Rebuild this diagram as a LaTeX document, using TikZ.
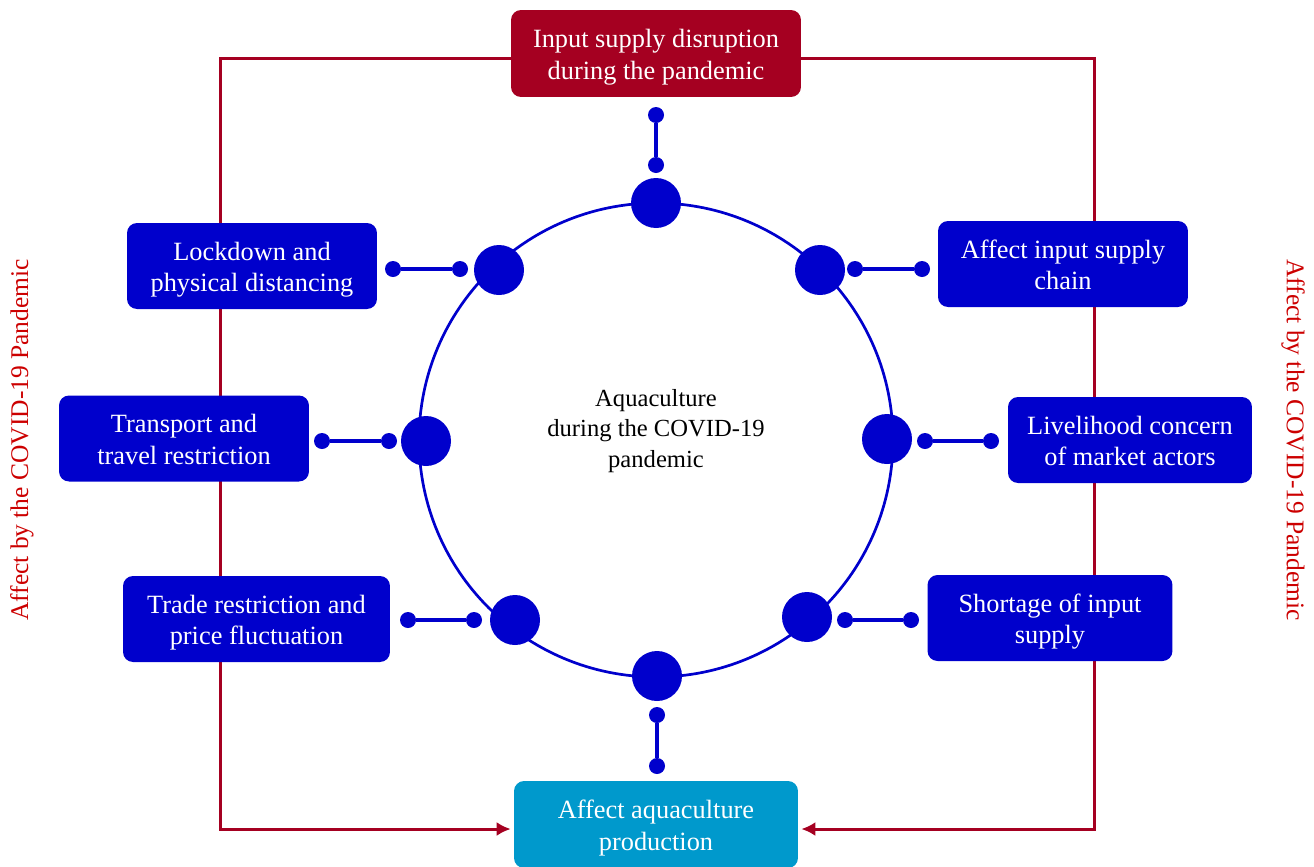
\documentclass[tikz,border=0pt]{standalone}
\usepackage{fontspec}
\setmainfont{Liberation Serif}
\usepackage{tikz}
\usetikzlibrary{arrows.meta, backgrounds}
\usepackage{xcolor}

\definecolor{navyblue}{HTML}{0000CC}
\definecolor{winered}{HTML}{A50021}
\definecolor{seablue}{HTML}{0099CC}
\definecolor{tagred}{HTML}{CC0000}

\begin{document}
\begin{tikzpicture}[
    x = 0.02cm, y = -0.02cm,
    box/.style      = {rounded corners=0.2cm, fill=navyblue, text=white,
                       minimum width=5cm, minimum height=1.72cm,
                       inner sep=2pt, align=center,
                       text height=32.8pt, text depth=3.3pt,
                       font=\fontsize{15}{18}\selectfont},
    hub/.style      = {circle, fill=navyblue, minimum size=1cm, inner sep=0pt},
    dot/.style      = {circle, fill=navyblue, minimum size=0.32cm, inner sep=0pt},
    link/.style     = {navyblue, line width=0.08cm},
    feed/.style     = {winered, line width=0.06cm},
    feedarr/.style  = {feed, -{Latex[length=0.28cm, width=0.28cm]}, shorten >=0.06cm},
    tag/.style      = {text=tagred, font=\fontsize{14.5}{17}\selectfont}
]
\useasboundingbox (0,0) rectangle (1314,866);

% outer feedback corners
\coordinate (tl) at (220,58);
\coordinate (bl) at (220,829);
\coordinate (tr) at (1094,58);
\coordinate (br) at (1094,829);

% ring
\node[draw=navyblue, line width=0.054cm, circle, minimum size=9.48cm] (ring) at (656,440) {};
\node[align=center, font=\fontsize{14}{17.6}\selectfont] (core) at (656,431)
     {Aquaculture\\during the COVID-19\\pandemic};

% hubs on the ring
\node[hub] (hubN)  at (656,203) {};
\node[hub] (hubNW) at (499,270) {};
\node[hub] (hubNE) at (820,270) {};
\node[hub] (hubW)  at (426,441) {};
\node[hub] (hubE)  at (887,439) {};
\node[hub] (hubSW) at (515,620) {};
\node[hub] (hubSE) at (807,617) {};
\node[hub] (hubS)  at (657,676) {};

% boxes
\node[box, fill=winered, minimum width=5.8cm, minimum height=1.74cm] (top) at (656,53.5)
     {Input supply disruption\\during the pandemic};
\node[box] (lockdown)   at (252,266)    {Lockdown and\\physical distancing};
\node[box] (chain)      at (1063,264)   {Affect input supply\\chain};
\node[box] (transport)  at (184,438.5)  {Transport and\\travel restriction};
\node[box, minimum width=4.88cm] (livelihood) at (1130,440) {Livelihood concern\\of market actors};
\node[box, minimum width=4.9cm]  (shortage)   at (1050,618) {Shortage of input\\supply};
\node[box, minimum width=5.34cm] (trade)      at (256.5,619) {Trade restriction and\\price fluctuation};
\node[box, fill=seablue, minimum width=5.68cm, minimum height=1.74cm] (bottom) at (656,824.5)
     {Affect aquaculture\\production};

% dumbbell ends
\node[dot] (nA) at (656,115) {};  \node[dot] (nB) at (656,165) {};
\node[dot] (nwA) at (393,269) {}; \node[dot] (nwB) at (460,269) {};
\node[dot] (neA) at (855,269) {}; \node[dot] (neB) at (922,269) {};
\node[dot] (wA) at (322,441) {};  \node[dot] (wB) at (389,441) {};
\node[dot] (eA) at (925,441) {};  \node[dot] (eB) at (991,441) {};
\node[dot] (swA) at (408,620) {}; \node[dot] (swB) at (474,620) {};
\node[dot] (seA) at (845,620) {}; \node[dot] (seB) at (911,620) {};
\node[dot] (sA) at (657,715) {};  \node[dot] (sB) at (657,766) {};

\draw[link] (nA)  -- (nB);
\draw[link] (nwA) -- (nwB);
\draw[link] (neA) -- (neB);
\draw[link] (wA)  -- (wB);
\draw[link] (eA)  -- (eB);
\draw[link] (swA) -- (swB);
\draw[link] (seA) -- (seB);
\draw[link] (sA)  -- (sB);

% side labels
\node[tag, rotate=90]  (lefttag)  at (22,440)   {Affect by the COVID-19 Pandemic};
\node[tag, rotate=-90] (righttag) at (1293,440) {Affect by the COVID-19 Pandemic};

% feedback lines, behind the boxes
\begin{scope}[on background layer]
\draw[feedarr] (top.west |- tl) -- (tl) -- (bl) -- (bottom.west |- bl);
\draw[feedarr] (top.east |- tr) -- (tr) -- (br) -- (bottom.east |- br);
\end{scope}
\end{tikzpicture}
\end{document}
